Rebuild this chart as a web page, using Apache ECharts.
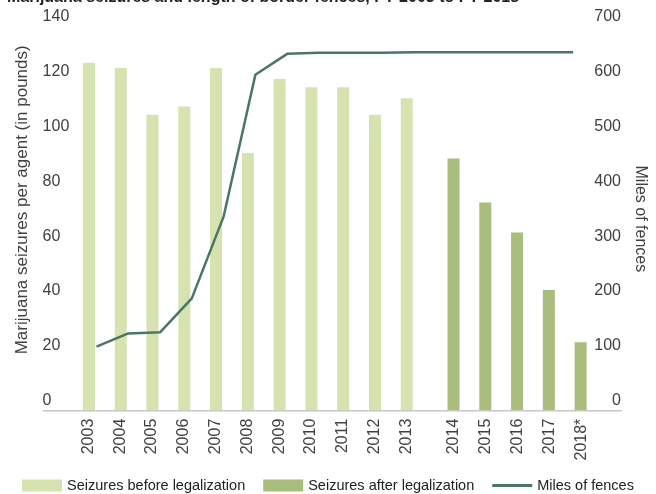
<!DOCTYPE html>
<html>
<head>
<meta charset="utf-8">
<script src="https://cdn.jsdelivr.net/npm/echarts@6/dist/echarts.min.js"></script>
<style>
html,body{margin:0;padding:0;background:#fff;}
#chart{width:656px;height:494px;}
</style>
</head>
<body>
<div id="chart"></div>
<script>
// Data
var years = ['2003','2004','2005','2006','2007','2008','2009','2010','2011','2012','2013','2014','2015','2016','2017','2018*'];
var seizuresBefore = [127, 125, 108, 111, 125, 94, 121, 118, 118, 108, 114, null, null, null, null, null];
var seizuresAfter  = [null, null, null, null, null, null, null, null, null, null, null, 92, 76, 65, 44, 25];
var milesOfFences  = [117, 141, 143, 205, 354, 613, 651, 653, 653, 653, 654, 654, 654, 654, 654, 654];
var leftTicks = {min: 0, max: 140, interval: 20};
var rightTicks = {min: 0, max: 700, interval: 100};

var FONT = 'Liberation Sans, Arial, sans-serif';
var TXT = '#404040';

var xData = years.map(function (y, i) {
  return {
    value: y,
    textStyle: { verticalAlign: seizuresBefore[i] != null ? 'bottom' : 'top' }
  };
});

var chart = echarts.init(document.getElementById('chart'), null, {renderer: 'canvas'});
chart.setOption({
  animation: false,
  backgroundColor: '#ffffff',
  textStyle: {fontFamily: FONT},
  title: {
    text: 'Marijuana seizures and length of border fences, FY 2003 to FY 2018',
    left: 2, top: -15,
    textStyle: {fontFamily: FONT, fontSize: 16, fontWeight: 'bold', color: '#222'}
  },
  grid: {left: 80.6, right: 66.6, top: 27, bottom: 83.3, containLabel: false},
  legend: {
    top: 473, left: 'center',
    itemWidth: 40, itemHeight: 12, itemGap: 18,
    symbolKeepAspect: true,
    textStyle: {fontFamily: FONT, fontSize: 14.5, color: '#222'},
    data: [
      {name: 'Seizures before legalization', icon: 'rect'},
      {name: 'Seizures after legalization', icon: 'rect'},
      {name: 'Miles of fences', icon: 'path://M0 0 H36 V2.5 H0 Z'}
    ]
  },
  xAxis: {
    type: 'category',
    data: xData,
    axisLine: {show: false},
    axisTick: {show: false},
    axisLabel: {rotate: 90, margin: 8, fontSize: 16, color: TXT, fontFamily: FONT}
  },
  yAxis: [
    {
      type: 'value', min: leftTicks.min, max: leftTicks.max, interval: leftTicks.interval,
      name: 'Marijuana seizures per agent (in pounds)',
      nameLocation: 'middle', nameGap: 50,
      nameTextStyle: {fontSize: 17, color: TXT, fontFamily: FONT, padding: [0, 0, 0, 38]},
      axisLine: {show: false}, axisTick: {show: false}, splitLine: {show: false},
      axisLabel: {fontSize: 16, color: TXT, align: 'left', margin: 38, verticalAlign: 'bottom', lineHeight: 20, fontFamily: FONT}
    },
    {
      type: 'value', min: rightTicks.min, max: rightTicks.max, interval: rightTicks.interval,
      name: 'Miles of fences',
      nameLocation: 'middle', nameGap: 43, nameRotate: -90,
      nameTextStyle: {fontSize: 16, color: TXT, fontFamily: FONT},
      axisLine: {show: false}, axisTick: {show: false}, splitLine: {show: false},
      axisLabel: {fontSize: 16, color: TXT, align: 'right', margin: 32, verticalAlign: 'bottom', lineHeight: 20, fontFamily: FONT}
    }
  ],
  series: [
    {
      name: 'Seizures before legalization', type: 'bar', yAxisIndex: 0,
      data: seizuresBefore, barWidth: 12, barGap: '25%',
      itemStyle: {color: '#d6e3b1'}
    },
    {
      name: 'Seizures after legalization', type: 'bar', yAxisIndex: 0,
      data: seizuresAfter, barWidth: 12, barGap: '25%',
      itemStyle: {color: '#a9bd7c'}
    },
    {
      name: 'Miles of fences', type: 'line', yAxisIndex: 1,
      data: milesOfFences, symbol: 'none', smooth: false,
      lineStyle: {color: '#4a7664', width: 2.5},
      itemStyle: {color: '#4a7664'}
    }
  ],
  graphic: [
    {
      type: 'line', z: 10,
      shape: {x1: 43, y1: 410.7, x2: 622, y2: 410.7},
      style: {stroke: '#c8c8c8', lineWidth: 1.5}
    }
  ]
});
</script>
</body>
</html>
